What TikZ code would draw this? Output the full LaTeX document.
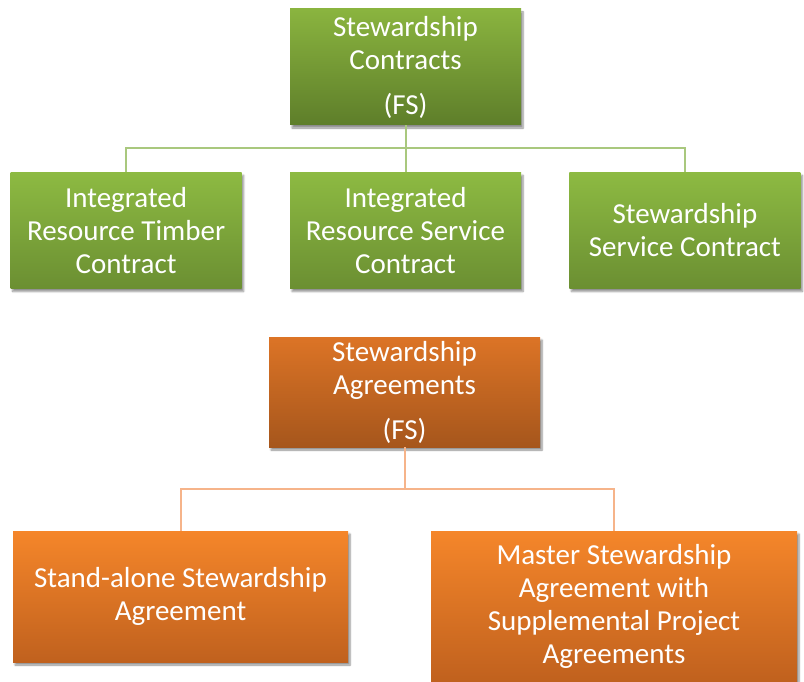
\documentclass[tikz,border=0pt]{standalone}
\usepackage{fontspec}
\setmainfont{Carlito}
\usetikzlibrary{positioning, shadows.blur}

\definecolor{leafTop}{HTML}{8AB43F}
\definecolor{leafBot}{HTML}{5E7E2A}
\definecolor{leafLtTop}{HTML}{8DBA42}
\definecolor{leafLtBot}{HTML}{6B8F32}
\definecolor{leafLine}{HTML}{A9C87E}
\definecolor{rustTop}{HTML}{DC7426}
\definecolor{rustBot}{HTML}{A6561C}
\definecolor{amberTop}{HTML}{F5862A}
\definecolor{amberBot}{HTML}{C0611E}
\definecolor{amberLine}{HTML}{F6B48A}

\begin{document}
\begin{tikzpicture}[
    x=1pt, y=-1pt,
    box/.style={rectangle, inner sep=0pt, align=center, text=white,
                font=\fontsize{29}{33}\selectfont,
                blur shadow={shadow xshift=2pt, shadow yshift=-3pt,
                             shadow blur steps=6, shadow opacity=45}},
    contract/.style={box, top color=leafLtTop, bottom color=leafLtBot,
                     minimum width=231pt, minimum height=116pt},
    agreement/.style={box, top color=amberTop, bottom color=amberBot},
    greenlink/.style={draw=leafLine, line width=2pt},
    orangelink/.style={draw=amberLine, line width=2pt},
    node distance=48pt
  ]
  \useasboundingbox (0,0) rectangle (804,682);

  % contracts branch
  \node[box, top color=leafTop, bottom color=leafBot,
        minimum width=231pt, minimum height=116pt] (contracts) at (405.5,67)
    {Stewardship\\Contracts\\[12pt](FS)};
  \node[contract, below=47pt of contracts] (irsc)
    {Integrated\\Resource Service\\Contract};
  \node[contract, left=of irsc] (irtc)
    {Integrated\\Resource Timber\\Contract};
  \node[contract, right=of irsc] (ssc)
    {Stewardship\\Service Contract};

  \foreach \kid in {irtc, irsc, ssc}
    \draw[greenlink] (contracts.south) -- ++(0,23) -| (\kid.north);

  % agreements branch
  \node[box, top color=rustTop, bottom color=rustBot,
        minimum width=271pt, minimum height=110pt] (agreements) at (404.5,392)
    {Stewardship\\Agreements\\[12pt](FS)};
  \node[agreement, minimum width=335pt, minimum height=131pt] (standalone)
    at (180.5,596.5) {Stand-alone Stewardship\\Agreement};
  \node[agreement, minimum width=366pt, minimum height=151pt] (master)
    at (614,606.5)
    {Master Stewardship\\Agreement with\\Supplemental Project\\Agreements};

  \foreach \kid in {standalone, master}
    \draw[orangelink] (agreements.south) -- ++(0,42) -| (\kid.north);
\end{tikzpicture}
\end{document}
